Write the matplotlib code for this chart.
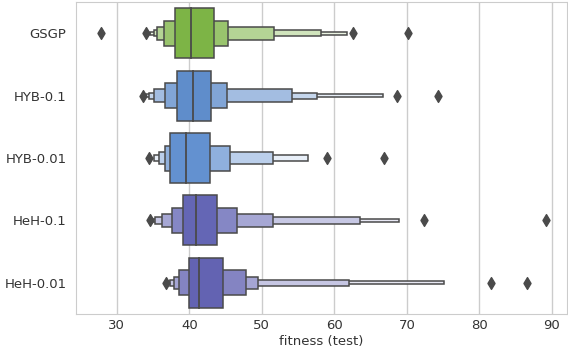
import numpy as np
import matplotlib
matplotlib.use("Agg")
from matplotlib import pyplot as plt
from matplotlib.colors import to_rgb

# letter values, inner box -> outer box
groups = ['GSGP', 'HYB-0.1', 'HYB-0.01', 'HeH-0.1', 'HeH-0.01']
colors = ['#7db446', '#5f8dcb', '#6391d0', '#6466b5', '#6363b2']

lows = [
    [38.0, 36.5, 35.6, 35.07, 34.6],
    [38.26, 36.68, 35.07, 34.5, 34.0],
    [37.37, 36.68, 35.85, 35.07],
    [39.1, 37.6, 36.2, 35.3, 34.9],
    [40.0, 38.65, 37.83, 37.37, 37.0],
]
highs = [
    [43.39, 45.4, 51.65, 58.1, 61.8],
    [43.06, 45.26, 54.13, 57.57, 66.67],
    [42.9, 45.65, 51.6, 56.3],
    [43.8, 46.6, 51.6, 63.6, 68.95],
    [44.7, 47.84, 49.53, 61.95, 75.06],
]
medians = [40.26, 40.58, 39.57, 40.9, 41.36]
outliers = [
    [27.8, 34.1, 62.6, 70.2],
    [33.6, 68.7, 74.3],
    [34.4, 59.0, 66.9],
    [34.6, 72.3, 89.2],
    [36.8, 81.6, 86.5],
]

gray = '#4a4a4a'
txt = '#333333'

fig = plt.figure(figsize=(5.68, 3.60), dpi=100)
ax = fig.add_axes([0.134, 0.128, 0.864, 0.866])

for i, g in enumerate(groups):
    base = np.array(to_rgb(colors[i]))
    light = base + (1 - base) * 0.85
    n = len(lows[i])
    for j in range(n - 1, -1, -1):
        t = j / (n - 1) if n > 1 else 0
        c = base * (1 - t) + light * t
        ax.barh(i, highs[i][j] - lows[i][j], left=lows[i][j], height=0.8 * 0.5 ** j,
                color=c, edgecolor=gray, linewidth=1.1, zorder=2)
    ax.plot([medians[i], medians[i]], [i - 0.4, i + 0.4], color=gray, lw=1.3, zorder=3)
    ax.scatter(outliers[i], [i] * len(outliers[i]), marker='d', color=gray, s=36, zorder=3)

ax.set_yticks(range(len(groups)))
ax.set_yticklabels(groups, fontsize=9.5, color=txt)
ax.set_xticks([30, 40, 50, 60, 70, 80, 90])
ax.tick_params(axis='x', labelsize=9.5, colors=txt, length=0, pad=4)
ax.tick_params(axis='y', length=0, pad=7)
ax.set_xlim(24.4, 92.05)
ax.set_ylim(4.5, -0.5)
ax.grid(axis='x', color='#cccccc', lw=1, zorder=0)
ax.set_axisbelow(True)
for s in ax.spines.values():
    s.set_color('#cccccc')
ax.set_xlabel('fitness (test)', fontsize=9.5, color=txt, labelpad=2)

plt.savefig('out.png')
